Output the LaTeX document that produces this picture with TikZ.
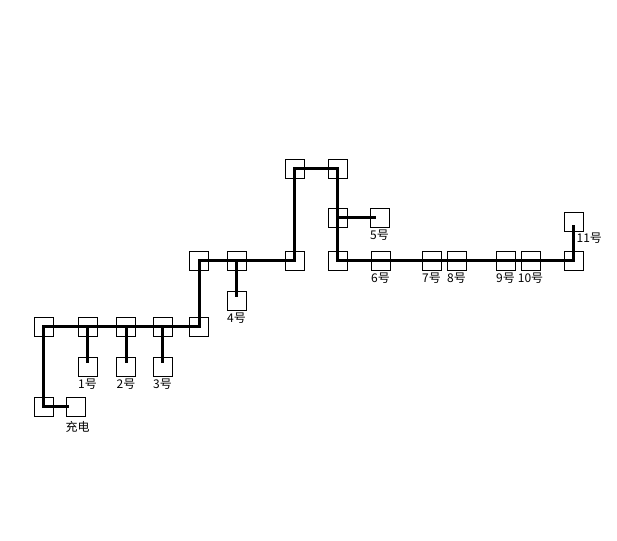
\documentclass[tikz,border=0pt]{standalone}
\usepackage{fontspec}
\newfontfamily\cjk{Noto Sans CJK SC}
\usetikzlibrary{positioning}

\begin{document}
\begin{tikzpicture}[x=1pt,y=-1pt,
  node distance=1pt,
  spot/.style={draw,line width=0.8pt,minimum size=19pt,inner sep=0pt},
  tag/.style={font=\cjk\fontsize{12}{12}\selectfont,inner sep=0pt},
  wire/.style={line width=3pt}]
  \useasboundingbox (0,0) rectangle (617,540);
  % lower row with the stations 1 to 3
  \node[spot] (a1) at (43.5,326.5) {};
  \node[spot] (a2) at (87.5,326.5) {};
  \node[spot] (a3) at (126,326.5) {};
  \node[spot] (a4) at (162.5,326.5) {};
  \node[spot] (a5) at (199,326.5) {};
  \node[spot] (n1) at (87.5,366.5) {};
  \node[spot] (n2) at (126,366.5) {};
  \node[spot] (n3) at (162.5,366.5) {};
  \node[spot] (c0) at (43.5,406.5) {};
  \node[spot] (c1) at (75.5,406.5) {};
  % middle row with the stations 4 and 6 to 10
  \node[spot] (b1) at (199,260.5) {};
  \node[spot] (b2) at (236.5,260.5) {};
  \node[spot] (b3) at (294.5,260.5) {};
  \node[spot] (b4) at (337.5,260.5) {};
  \node[spot] (n6) at (380.5,260.5) {};
  \node[spot] (n7) at (431.5,260.5) {};
  \node[spot] (n8) at (456.5,260.5) {};
  \node[spot] (n9) at (505.5,260.5) {};
  \node[spot] (n10) at (530.5,260.5) {};
  \node[spot] (b5) at (573.5,260.5) {};
  \node[spot] (n4) at (236.5,300.5) {};
  % upper part with the stations 5 and 11
  \node[spot] (d1) at (337.5,217.5) {};
  \node[spot] (n5) at (379.5,217.5) {};
  \node[spot] (e1) at (294.5,168.5) {};
  \node[spot] (e2) at (337.5,168.5) {};
  \node[spot] (n11) at (573.5,221.5) {};
  % labels
  \node[tag,below=2pt of n1] (t1){1号};
  \node[tag,below=2pt of n2] (t2){2号};
  \node[tag,below=2pt of n3] (t3){3号};
  \node[tag,below=2pt of n4] (t4){4号};
  \node[tag,below=2pt of n5] (t5){5号};
  \node[tag,below=2pt of n6] (t6){6号};
  \node[tag,below=2pt of n7] (t7){7号};
  \node[tag,below=2pt of n8] (t8){8号};
  \node[tag,below=2pt of n9] (t9){9号};
  \node[tag,below=2pt of n10](t10){10号};
  \node[tag,below right=1pt and -7pt of n11.south east](t11){11号};
  \node[tag,below=5pt of c1,xshift=2pt] (tc){充电};
  % route
  \draw[wire,shorten <=7pt,shorten >=3.5pt](c1.center)--(c0.center)--(a1.center)--(a5.center)
    --(b1.center)--(b3.center)--(e1.center)--(e2.center)--(b4.center)--(b5.center)--(n11.center);
  \draw[wire,shorten >=3.5pt](a2.center)--(n1.center);
  \draw[wire,shorten >=3.5pt](a3.center)--(n2.center);
  \draw[wire,shorten >=3.5pt](a4.center)--(n3.center);
  \draw[wire,shorten >=3.5pt](b2.center)--(n4.center);
  \draw[wire,shorten >=3.5pt](d1.center)--(n5.center);
\end{tikzpicture}
\end{document}
